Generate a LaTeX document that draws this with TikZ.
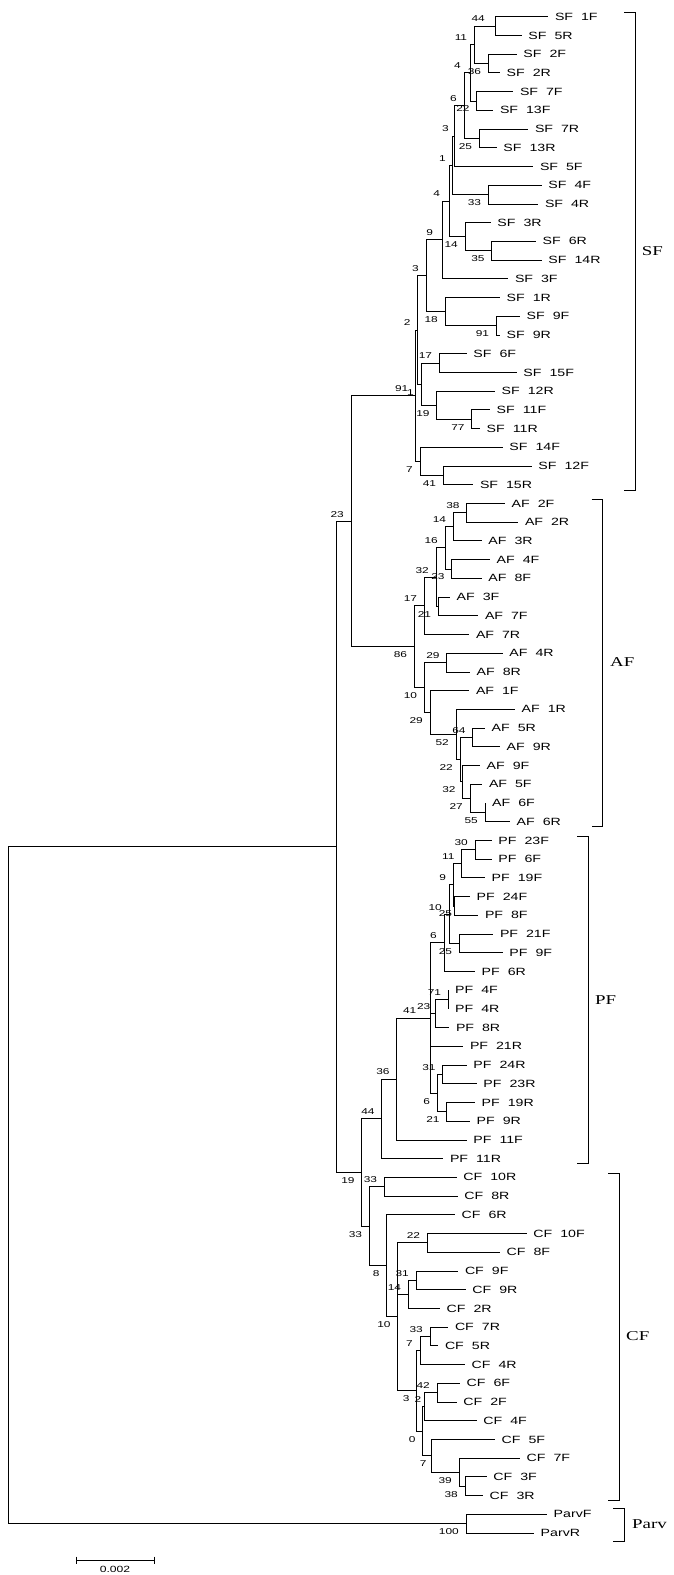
\documentclass[tikz,border=0pt]{standalone}
\usepackage{fontspec}
\newfontfamily\leaffont[FakeStretch=1.35]{Liberation Sans}
\newfontfamily\numfont[FakeStretch=1.4]{Liberation Sans}
\newfontfamily\cladefont[FakeStretch=1.4]{Liberation Serif}
\newcommand\leafat[4]{\node[leaf] (#1) at (#2,#3) {#4};}
\newcommand\inat[3]{\coordinate (#1) at (#2,#3);}
\newcommand\kids[2]{\foreach \k in {#2} {\draw[edge] (#1) |- (\k);}}
\newcommand\bsup[3][7]{\node[bs] (b-#2) at ([shift={(-#1,-7)}]#2) {#3};}
\newcommand\bsdn[3][7]{\node[bs] (b-#2) at ([shift={(-#1,8)}]#2) {#3};}
\tikzset{
  edge/.style={line width=0.8pt, line join=miter},
  leaf/.style={anchor=west, inner xsep=6.5pt, inner ysep=1pt, font={\leaffont\fontsize{10.5}{12}\selectfont\spaceskip=8pt\relax}},
  bs/.style={anchor=east, inner sep=0pt, font={\numfont\fontsize{8.5}{10}\selectfont}},
  clade/.style={anchor=west, inner sep=0pt, font={\cladefont\fontsize{13.5}{16}\selectfont}},
  sbtext/.style={inner sep=0pt, font={\leaffont\fontsize{9}{11}\selectfont}}
}
\begin{document}
\begin{tikzpicture}[x=1pt,y=-1pt]
\useasboundingbox (0,0) rectangle (674,1575);
% ---------- leaves ----------
\leafat{sf1f}{548.3}{16.7}{SF 1F}
\leafat{sf5r}{521.7}{35.42}{SF 5R}
\leafat{sf2f}{516.7}{54.14}{SF 2F}
\leafat{sf2r}{500}{72.86}{SF 2R}
\leafat{sf7f}{513.3}{91.58}{SF 7F}
\leafat{sf13f}{493.3}{110.30}{SF 13F}
\leafat{sf7r}{528.3}{129.02}{SF 7R}
\leafat{sf13r}{496.7}{147.74}{SF 13R}
\leafat{sf5f}{533.3}{166.46}{SF 5F}
\leafat{sf4f}{541.7}{185.18}{SF 4F}
\leafat{sf4r}{538.3}{203.90}{SF 4R}
\leafat{sf3r}{490.7}{222.62}{SF 3R}
\leafat{sf6r}{536}{241.34}{SF 6R}
\leafat{sf14r}{541.7}{260.06}{SF 14R}
\leafat{sf3f}{508.3}{278.78}{SF 3F}
\leafat{sf1r}{500}{297.50}{SF 1R}
\leafat{sf9f}{520}{316.22}{SF 9F}
\leafat{sf9r}{500}{334.94}{SF 9R}
\leafat{sf6f}{466.7}{353.66}{SF 6F}
\leafat{sf15f}{516.7}{372.38}{SF 15F}
\leafat{sf12r}{495}{391.10}{SF 12R}
\leafat{sf11f}{490}{409.82}{SF 11F}
\leafat{sf11r}{480}{428.54}{SF 11R}
\leafat{sf14f}{502.7}{447.26}{SF 14F}
\leafat{sf12f}{531.7}{465.98}{SF 12F}
\leafat{sf15r}{473.3}{484.70}{SF 15R}
\leafat{af2f}{505}{503.42}{AF 2F}
\leafat{af2r}{518.3}{522.14}{AF 2R}
\leafat{af3r}{481.7}{540.86}{AF 3R}
\leafat{af4f}{490}{559.58}{AF 4F}
\leafat{af8f}{481.7}{578.30}{AF 8F}
\leafat{af3f}{450}{597.02}{AF 3F}
\leafat{af7f}{478.3}{615.74}{AF 7F}
\leafat{af7r}{469.3}{634.46}{AF 7R}
\leafat{af4r}{502.7}{653.18}{AF 4R}
\leafat{af8r}{470}{671.90}{AF 8R}
\leafat{af1f}{469.3}{690.62}{AF 1F}
\leafat{af1r}{515}{709.34}{AF 1R}
\leafat{af5r}{485}{728.06}{AF 5R}
\leafat{af9r}{500}{746.78}{AF 9R}
\leafat{af9f}{480}{765.50}{AF 9F}
\leafat{af5f}{482.3}{784.22}{AF 5F}
\leafat{af6f}{485.5}{802.94}{AF 6F}
\leafat{af6r}{510}{821.66}{AF 6R}
\leafat{pf23f}{491.7}{840.38}{PF 23F}
\leafat{pf6f}{491.7}{859.10}{PF 6F}
\leafat{pf19f}{485}{877.82}{PF 19F}
\leafat{pf24f}{470}{896.54}{PF 24F}
\leafat{pf8f}{478.3}{915.26}{PF 8F}
\leafat{pf21f}{493.3}{933.98}{PF 21F}
\leafat{pf9f}{502.7}{952.70}{PF 9F}
\leafat{pf6r}{475}{971.42}{PF 6R}
\leafat{pf4f}{448.5}{990.14}{PF 4F}
\leafat{pf4r}{448.5}{1008.86}{PF 4R}
\leafat{pf8r}{449.3}{1027.58}{PF 8R}
\leafat{pf21r}{463.3}{1046.30}{PF 21R}
\leafat{pf24r}{466.7}{1065.02}{PF 24R}
\leafat{pf23r}{476.7}{1083.74}{PF 23R}
\leafat{pf19r}{475}{1102.46}{PF 19R}
\leafat{pf9r}{470}{1121.18}{PF 9R}
\leafat{pf11f}{466.7}{1139.90}{PF 11F}
\leafat{pf11r}{443.3}{1158.62}{PF 11R}
\leafat{cf10r}{456.7}{1177.34}{CF 10R}
\leafat{cf8r}{457.7}{1196.06}{CF 8R}
\leafat{cf6r}{455}{1214.78}{CF 6R}
\leafat{cf10f}{526.7}{1233.50}{CF 10F}
\leafat{cf8f}{500}{1252.22}{CF 8F}
\leafat{cf9f}{458.3}{1270.94}{CF 9F}
\leafat{cf9r}{465.7}{1289.66}{CF 9R}
\leafat{cf2r}{440}{1308.38}{CF 2R}
\leafat{cf7r}{448.3}{1327.10}{CF 7R}
\leafat{cf5r}{438.3}{1345.82}{CF 5R}
\leafat{cf4r}{465}{1364.54}{CF 4R}
\leafat{cf6f}{460}{1383.26}{CF 6F}
\leafat{cf2f}{456.7}{1401.98}{CF 2F}
\leafat{cf4f}{476.7}{1420.70}{CF 4F}
\leafat{cf5f}{495}{1439.42}{CF 5F}
\leafat{cf7f}{520}{1458.14}{CF 7F}
\leafat{cf3f}{486.7}{1476.86}{CF 3F}
\leafat{cf3r}{483}{1495.58}{CF 3R}
\leafat{parvf}{547}{1514.30}{ParvF}
\leafat{parvr}{534}{1533.02}{ParvR}
% ---------- internal nodes ----------
\inat{n1}{495}{26.06}
\inat{n2}{488.3}{63.50}
\inat{n3}{474.3}{44.78}
\inat{n4}{476.7}{100.94}
\inat{n5}{470}{72.86}
\inat{n6}{479.3}{138.38}
\inat{n7}{464}{105.62}
\inat{nS}{454}{136.04}
\inat{n8}{488.3}{194.54}
\inat{nT}{452}{165.29}
\inat{n9}{491.7}{250.70}
\inat{n10}{465}{236.66}
\inat{nP}{449.3}{200.98}
\inat{nU}{442.3}{239.88}
\inat{n11}{496.3}{325.58}
\inat{n12}{445}{311.54}
\inat{nV}{426}{275.71}
\inat{n15}{439.3}{363.02}
\inat{n13}{471.7}{419.18}
\inat{n14}{436.7}{405.14}
\inat{nX}{421}{384.08}
\inat{nW}{417.8}{329.90}
\inat{n16}{443.3}{475.34}
\inat{n17}{420}{461.30}
\inat{sfr}{415.5}{395.60}
\inat{a1}{466.7}{512.78}
\inat{a2}{453.3}{526.82}
\inat{a3}{451.7}{568.94}
\inat{a4}{445}{547.88}
\inat{a5}{438.3}{606.38}
\inat{a6}{436}{577.13}
\inat{a7}{424.3}{605.80}
\inat{a8}{446.7}{662.54}
\inat{a9}{472.7}{737.42}
\inat{a10}{485}{812.30}
\inat{a11}{470}{798.26}
\inat{a12}{462.7}{781.88}
\inat{a13}{460}{759.65}
\inat{a14}{456}{734.50}
\inat{a15}{430}{712.56}
\inat{a16}{424.3}{687.55}
\inat{afr}{414.3}{646.68}
\inat{sfaf}{351}{521.14}
\inat{p1}{475}{849.74}
\inat{p2}{461.7}{863.78}
\inat{p3}{454.3}{905.90}
\inat{p4}{453.3}{884.84}
\inat{p5}{459.3}{943.34}
\inat{p6}{449}{914.09}
\inat{p7}{444}{942.76}
\inat{p8}{448.3}{999.50}
\inat{p9}{435}{1013.54}
\inat{p11}{442.7}{1074.38}
\inat{p12}{446.7}{1111.82}
\inat{p13}{437.3}{1093.10}
\inat{pY}{430}{1017.93}
\inat{pX}{396.7}{1078.92}
\inat{pfr}{381.7}{1118.77}
\inat{c1}{384.3}{1186.70}
\inat{c2}{427.3}{1242.86}
\inat{c3}{416}{1280.30}
\inat{c4}{408.3}{1294.34}
\inat{c6}{430}{1336.46}
\inat{c7}{420}{1350.50}
\inat{c8}{437}{1392.62}
\inat{c9}{424}{1406.66}
\inat{c10}{465}{1486.22}
\inat{c11}{459}{1472.18}
\inat{c12}{431.7}{1455.80}
\inat{c13}{422.7}{1431.23}
\inat{r3}{416.7}{1390.87}
\inat{r2}{397.7}{1316.87}
\inat{r1}{386.7}{1265.83}
\inat{cfr}{369.3}{1226.26}
\inat{pfcf}{361.7}{1172.51}
\inat{ing}{336}{846.83}
\inat{parv}{466}{1523.66}
\inat{root}{8.5}{1185.25}
% ---------- branches ----------
\kids{n1}{sf1f.west,sf5r.west}
\kids{n2}{sf2f.west,sf2r.west}
\kids{n3}{n1,n2}
\kids{n4}{sf7f.west,sf13f.west}
\kids{n5}{n3,n4}
\kids{n6}{sf7r.west,sf13r.west}
\kids{n7}{n5,n6}
\kids{nS}{n7,sf5f.west}
\kids{n8}{sf4f.west,sf4r.west}
\kids{nT}{nS,n8}
\kids{n9}{sf6r.west,sf14r.west}
\kids{n10}{sf3r.west,n9}
\kids{nP}{nT,n10}
\kids{nU}{nP,sf3f.west}
\kids{n11}{sf9f.west,sf9r.west}
\kids{n12}{sf1r.west,n11}
\kids{nV}{nU,n12}
\kids{n15}{sf6f.west,sf15f.west}
\kids{n13}{sf11f.west,sf11r.west}
\kids{n14}{sf12r.west,n13}
\kids{nX}{n15,n14}
\kids{nW}{nV,nX}
\kids{n16}{sf12f.west,sf15r.west}
\kids{n17}{sf14f.west,n16}
\kids{sfr}{nW,n17}
\kids{a1}{af2f.west,af2r.west}
\kids{a2}{a1,af3r.west}
\kids{a3}{af4f.west,af8f.west}
\kids{a4}{a2,a3}
\kids{a5}{af3f.west,af7f.west}
\kids{a6}{a4,a5}
\kids{a7}{a6,af7r.west}
\kids{a8}{af4r.west,af8r.west}
\kids{a9}{af5r.west,af9r.west}
\kids{a10}{af6f.west,af6r.west}
\kids{a11}{af5f.west,a10}
\kids{a12}{af9f.west,a11}
\kids{a13}{a9,a12}
\kids{a14}{af1r.west,a13}
\kids{a15}{af1f.west,a14}
\kids{a16}{a8,a15}
\kids{afr}{a7,a16}
\kids{sfaf}{sfr,afr}
\kids{p1}{pf23f.west,pf6f.west}
\kids{p2}{p1,pf19f.west}
\kids{p3}{pf24f.west,pf8f.west}
\kids{p4}{p2,p3}
\kids{p5}{pf21f.west,pf9f.west}
\kids{p6}{p4,p5}
\kids{p7}{p6,pf6r.west}
\kids{p8}{pf4f.west,pf4r.west}
\kids{p9}{p8,pf8r.west}
\kids{p11}{pf24r.west,pf23r.west}
\kids{p12}{pf19r.west,pf9r.west}
\kids{p13}{p11,p12}
\kids{pY}{p7,p9,pf21r.west,p13}
\kids{pX}{pY,pf11f.west}
\kids{pfr}{pX,pf11r.west}
\kids{c1}{cf10r.west,cf8r.west}
\kids{c2}{cf10f.west,cf8f.west}
\kids{c3}{cf9f.west,cf9r.west}
\kids{c4}{c3,cf2r.west}
\kids{c6}{cf7r.west,cf5r.west}
\kids{c7}{c6,cf4r.west}
\kids{c8}{cf6f.west,cf2f.west}
\kids{c9}{c8,cf4f.west}
\kids{c10}{cf3f.west,cf3r.west}
\kids{c11}{cf7f.west,c10}
\kids{c12}{cf5f.west,c11}
\kids{c13}{c9,c12}
\kids{r3}{c7,c13}
\kids{r2}{c2,c4,r3}
\kids{r1}{cf6r.west,r2}
\kids{cfr}{c1,r1}
\kids{pfcf}{pfr,cfr}
\kids{ing}{sfaf,pfcf}
\kids{parv}{parvf.west,parvr.west}
\kids{root}{ing,parv}
% ---------- bootstrap values ----------
\bsup[10]{n1}{44} \bsdn{n2}{36} \bsup{n3}{11} \bsdn{n4}{22}
\bsup[9]{n5}{4} \bsdn{n6}{25} \bsup{n7}{6} \bsup[5]{nS}{3}
\bsdn{n8}{33} \bsup[6]{nT}{1} \bsdn{n9}{35} \bsdn{n10}{14}
\bsup[9]{nP}{4} \bsup[9]{nU}{9} \bsdn{n11}{91} \bsdn{n12}{18}
\bsup{nV}{3} \bsup{n15}{17} \bsdn{n13}{77} \bsdn{n14}{19}
\bsdn{nX}{1} \bsup{nW}{2} \bsdn{n16}{41} \bsdn{n17}{7}
\bsup{sfr}{91}
\bsup{a1}{38} \bsup{a2}{14} \bsdn{a3}{23} \bsup{a4}{16}
\bsdn{a5}{21} \bsup{a6}{32} \bsup{a7}{17} \bsup{a8}{29}
\bsup{a9}{64} \bsdn{a10}{55} \bsdn{a11}{27} \bsdn{a12}{32}
\bsdn{a13}{22} \bsdn{a14}{52} \bsdn{a15}{29} \bsdn{a16}{10}
\bsdn{afr}{86} \bsup{sfaf}{23}
\bsup{p1}{30} \bsup{p2}{11} \bsdn[2]{p3}{25} \bsup{p4}{9}
\bsdn{p5}{25} \bsup{p6}{10} \bsup{p7}{6} \bsup{p8}{71}
\bsup[4.5]{p9}{23} \bsup[13.5]{pY}{41} \bsup{p11}{31} \bsdn{p12}{21}
\bsdn{p13}{6} \bsup{pX}{36} \bsup{pfr}{44} \bsdn{pfcf}{19}
\bsup{c1}{33} \bsup{c2}{22} \bsup{c3}{31} \bsup{c4}{14}
\bsup{c6}{33} \bsup{c7}{7} \bsup{c8}{42} \bsup[2.5]{c9}{2}
\bsdn{c10}{38} \bsdn{c11}{39} \bsdn[5]{c12}{7} \bsdn{c13}{0}
\bsdn{r3}{3} \bsdn{r2}{10} \bsdn{r1}{8} \bsdn{cfr}{33}
\bsdn{parv}{100}
% ---------- clade brackets ----------
\draw[edge] (624,12.3) -- (635,12.3) -- (635,490) -- (624,490);
\node[clade] (lsf) at (641.7,251) {SF};
\draw[edge] (591.7,499) -- (602.7,499) -- (602.7,826) -- (591.7,826);
\node[clade] (laf) at (610,662) {AF};
\draw[edge] (577.3,836) -- (588.3,836) -- (588.3,1163.3) -- (577.3,1163.3);
\node[clade] (lpf) at (595,1000) {PF};
\draw[edge] (608,1173.3) -- (619,1173.3) -- (619,1500) -- (608,1500);
\node[clade] (lcf) at (626,1336) {CF};
\draw[edge] (613,1508) -- (624.5,1508) -- (624.5,1541) -- (613,1541);
\node[clade] (lparv) at (632,1524) {Parv};
% ---------- scale bar ----------
\coordinate (sb1) at (76,1560);
\coordinate (sb2) at (154,1560);
\draw[edge] (sb1) -- (sb2);
\draw[edge] ([yshift=3.5pt]sb1) -- ([yshift=-3.5pt]sb1);
\draw[edge] ([yshift=3.5pt]sb2) -- ([yshift=-3.5pt]sb2);
\node[sbtext] (sbl) at (115,1569.5) {0.002};
\end{tikzpicture}
\end{document}
